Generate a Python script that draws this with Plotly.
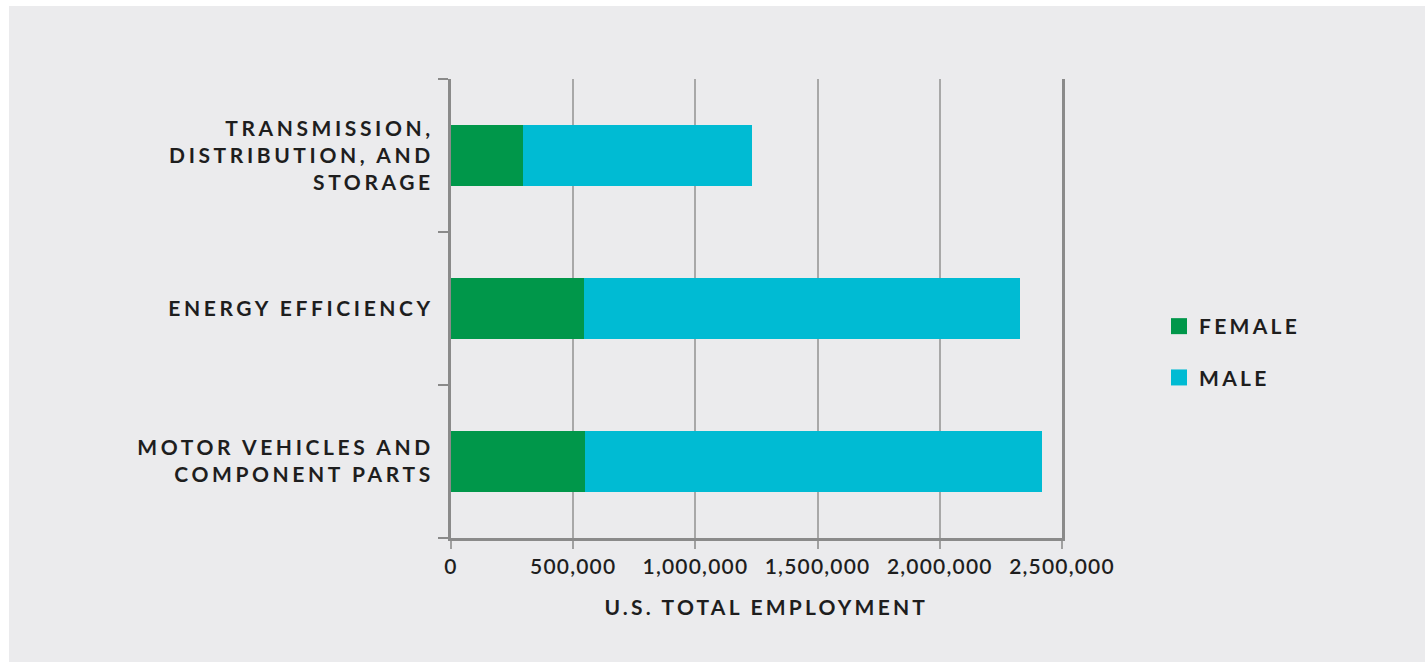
import plotly.graph_objects as go

categories = ["MOTOR VEHICLES AND<br>COMPONENT PARTS", "ENERGY EFFICIENCY",
              "TRANSMISSION,<br>DISTRIBUTION, AND<br>STORAGE"]
female = [548000, 544000, 294000]
male = [1872000, 1786000, 936000]
tick_vals = [0, 500000, 1000000, 1500000, 2000000, 2500000]
tick_text = ["0", "500,000", "1,000,000", "1,500,000", "2,000,000", "2,500,000"]
series_names = ["FEMALE", "MALE"]

BG = "#ebebed"
GREEN = "#00974a"
CYAN = "#00bbd3"
TXT = "#1e1e1e"

fig = go.Figure()
fig.add_trace(go.Bar(y=categories, x=female, name=series_names[0], orientation="h",
                     marker=dict(color=GREEN, line=dict(width=0)), width=0.4,
                     showlegend=False))
fig.add_trace(go.Bar(y=categories, x=male, name=series_names[1], orientation="h",
                     marker=dict(color=CYAN, line=dict(width=0)), width=0.4,
                     showlegend=False))
# legend entries with larger square swatches
for nm, col in zip(series_names, [GREEN, CYAN]):
    fig.add_trace(go.Scatter(x=[None], y=[None], mode="markers", name=nm,
                             legendgroup=nm,
                             marker=dict(symbol="square", size=16, color=col)))

font = dict(family="Lato", size=21, color=TXT, weight="bold")

pw = 1425 - 451 - 363
ph = 662 - 79 - 124

fig.update_layout(
    barmode="stack",
    width=1425, height=662,
    margin=dict(l=451, r=363, t=79, b=124),
    paper_bgcolor=BG, plot_bgcolor=BG,
    font=font,
    showlegend=True,
    legend=dict(x=(1159 - 451) / pw, y=(538 - 352) / ph, xanchor="left", yanchor="middle",
                traceorder="grouped", font=font, itemsizing="trace",
                tracegroupgap=21, bgcolor="rgba(0,0,0,0)"),
    xaxis=dict(range=[0, 2500000], tickvals=tick_vals, ticktext=tick_text,
               showgrid=True, gridcolor="#a8a8a8", gridwidth=2,
               showline=True, linecolor="#8a8a8a", linewidth=3,
               ticks="outside", ticklen=8, tickwidth=2, tickcolor="#a0a0a0",
               zeroline=False,
               tickfont=dict(family="Lato", size=21, color=TXT, weight=600)),
    yaxis=dict(showline=True, linecolor="#8a8a8a", linewidth=3, mirror=True,
               ticks="outside", ticklen=10, tickwidth=2, tickcolor="#8a8a8a",
               tickson="boundaries", showgrid=False, zeroline=False,
               tickfont=font, ticklabelstandoff=10),
    annotations=[dict(text="U.S. TOTAL EMPLOYMENT", xref="paper", yref="paper",
                      x=(766 - 451) / pw, y=(538 - 606) / ph, xanchor="center",
                      yanchor="middle", showarrow=False, font=font)],
)

# white page border at top and left
fig.add_shape(type="rect", xref="paper", yref="paper",
              x0=-451 / pw, x1=(1425 - 451) / pw, y0=1 + 73 / ph, y1=1 + 80 / ph,
              fillcolor="white", line=dict(width=0), layer="below")
fig.add_shape(type="rect", xref="paper", yref="paper",
              x0=-452 / pw, x1=-442 / pw, y0=-125 / ph, y1=1 + 80 / ph,
              fillcolor="white", line=dict(width=0), layer="below")

post = """
var gd = document.getElementById('{plot_id}');
function ls(sel, v){ gd.querySelectorAll(sel).forEach(function(e){ e.style.letterSpacing = v; }); }
ls('.ytick text', '3.6px');
ls('.xtick text', '1.2px');
ls('.legendtext', '3.3px');
ls('.annotation-text', '3.2px');
gd.querySelectorAll('.legend .scrollbox, .legend').forEach(function(e){ e.removeAttribute('clip-path'); });
"""

fig.write_html("out.html", post_script=post)
